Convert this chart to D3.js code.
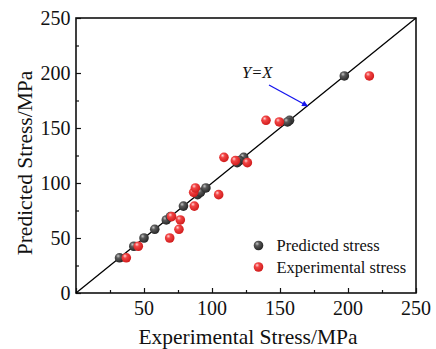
<!DOCTYPE html>
<html>
<head>
<meta charset="utf-8">
<script src="https://cdn.jsdelivr.net/npm/d3@7/dist/d3.min.js"></script>
<style>
  html, body { margin: 0; padding: 0; background: #fff; }
  svg { display: block; }
  text { font-family: "Liberation Serif", "Times New Roman", serif; fill: #111; }
</style>
</head>
<body>
<svg id="chart" width="436" height="349"></svg>
<script>
// Measured stress (MPa) and the model's prediction for each specimen
const experimental = [37, 45.8, 68.9, 75.7, 76.7, 70.3, 87, 104.9, 86.5, 87.8, 108.8, 117.2, 126, 139.7, 149.5, 215.7];
const predicted    = [32, 42.5, 50, 57.9, 66.4, 69.4, 79, 89.4, 91.5, 95.5, 123.3, 120.3, 118.5, 157, 155.5, 197.3];
const tickValues   = [0, 50, 100, 150, 200, 250];
const minorTicks   = [25, 75, 125, 175, 225];
const legendLabels = ["Predicted stress", "Experimental stress"];

const svg = d3.select("#chart");
const margin = { left: 76, right: 20, top: 18, bottom: 56 };
const W = 436, H = 349;

const x = d3.scaleLinear().domain([0, 250]).range([margin.left, W - margin.right]);
const y = d3.scaleLinear().domain([0, 250]).range([H - margin.bottom, margin.top]);

// Shaded sphere fills
const defs = svg.append("defs");
function sphere(id, hi, mid, lo) {
  const g = defs.append("radialGradient").attr("id", id)
    .attr("cx", "40%").attr("cy", "38%").attr("r", "62%").attr("fx", "35%").attr("fy", "30%");
  g.append("stop").attr("offset", "0%").attr("stop-color", hi);
  g.append("stop").attr("offset", "35%").attr("stop-color", mid);
  g.append("stop").attr("offset", "100%").attr("stop-color", lo);
}
sphere("ballGray", "#c8c8c8", "#5a5a5a", "#262626");
sphere("ballRed", "#ffd6d6", "#f24444", "#d01c1c");

defs.append("marker").attr("id", "arrowHead")
  .attr("viewBox", "0 0 10 10").attr("refX", 9).attr("refY", 5)
  .attr("markerWidth", 7).attr("markerHeight", 6).attr("orient", "auto")
  .attr("markerUnits", "userSpaceOnUse")
  .append("path").attr("d", "M0,0 L10,5 L0,10 Z").attr("fill", "#1515ee");

const [x0, x1] = x.range();
const [yb, yt] = y.range();

// Axes with inward ticks
const tickFmt = d3.format("d");
svg.append("g").attr("transform", `translate(0,${yb})`)
  .call(d3.axisTop(x).tickValues(tickValues).tickSize(5).tickFormat(""));
svg.append("g").attr("transform", `translate(0,${yb})`)
  .call(d3.axisTop(x).tickValues(minorTicks).tickSize(3).tickFormat(""));
svg.append("g").attr("transform", `translate(${x0},0)`)
  .call(d3.axisRight(y).tickValues(tickValues).tickSize(5).tickFormat(""));
svg.append("g").attr("transform", `translate(${x0},0)`)
  .call(d3.axisRight(y).tickValues(minorTicks).tickSize(3).tickFormat(""));
svg.selectAll(".domain").remove();
svg.selectAll(".tick line").attr("stroke", "#111").attr("stroke-width", 1.2);

// Tick labels
svg.append("g").selectAll("text").data(tickValues.filter(d => d > 0)).join("text")
  .attr("x", d => x(d)).attr("y", 315).attr("text-anchor", "middle")
  .attr("font-size", 20).text(tickFmt);
svg.append("g").selectAll("text").data(tickValues).join("text")
  .attr("x", x0 - 5.5).attr("y", d => y(d) + 7).attr("text-anchor", "end")
  .attr("font-size", 20).text(tickFmt);

// Frame
svg.append("rect").attr("x", x0).attr("y", yt).attr("width", x1 - x0).attr("height", yb - yt)
  .attr("fill", "none").attr("stroke", "#111").attr("stroke-width", 1.6);

// Y = X reference line
svg.append("line")
  .attr("x1", x(0)).attr("y1", y(0)).attr("x2", x(250)).attr("y2", y(250))
  .attr("stroke", "#000").attr("stroke-width", 1.3);

// Points: predicted on the diagonal, experimental against prediction
const r = 4.8;
svg.append("g").selectAll("circle").data(predicted).join("circle")
  .attr("cx", d => x(d)).attr("cy", d => y(d)).attr("r", r).attr("fill", "url(#ballGray)");
svg.append("g").selectAll("circle").data(experimental).join("circle")
  .attr("cx", d => x(d)).attr("cy", (d, i) => y(predicted[i])).attr("r", r).attr("fill", "url(#ballRed)");

// Annotation
svg.append("text").attr("x", 242).attr("y", 78).attr("font-size", 16.5)
  .attr("font-style", "italic").text("Y=X");
svg.append("line").attr("x1", 269).attr("y1", 85).attr("x2", 307.5).attr("y2", 106)
  .attr("stroke", "#1515ee").attr("stroke-width", 1.3).attr("marker-end", "url(#arrowHead)");

// Legend
const legend = svg.append("g");
legendLabels.forEach((lab, i) => {
  const ly = 245.5 + i * 21.5;
  legend.append("circle").attr("cx", 258.5).attr("cy", ly).attr("r", r)
    .attr("fill", i === 0 ? "url(#ballGray)" : "url(#ballRed)");
  legend.append("text").attr("x", 276.5).attr("y", ly + 5.5).attr("font-size", 16.5).text(lab);
});

// Axis titles
svg.append("text").attr("x", 248).attr("y", 344).attr("text-anchor", "middle")
  .attr("font-size", 21.5).text("Experimental Stress/MPa");
svg.append("text").attr("transform", `translate(32,163) rotate(-90)`)
  .attr("text-anchor", "middle").attr("font-size", 21.5).text("Predicted Stress/MPa");
</script>
</body>
</html>
